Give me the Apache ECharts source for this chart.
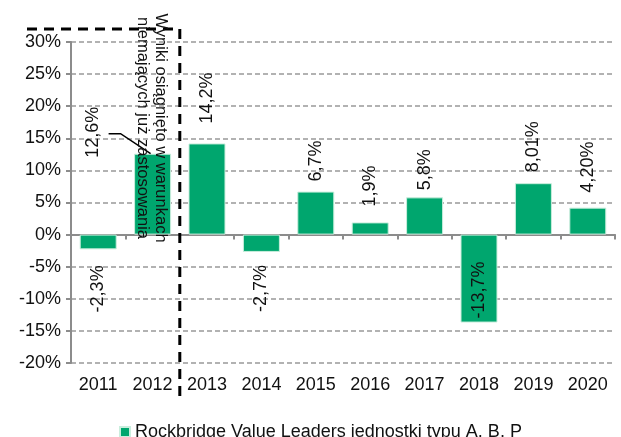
<!DOCTYPE html>
<html>
<head>
<meta charset="utf-8">
<script src="https://cdn.jsdelivr.net/npm/echarts@6/dist/echarts.min.js"></script>
<style>
  html, body { margin: 0; padding: 0; background: #fff; }
  #chart { width: 621px; height: 437px; }
</style>
</head>
<body>
<div id="chart"></div>
<script>
const years = ["2011", "2012", "2013", "2014", "2015", "2016", "2017", "2018", "2019", "2020"];
const returns = [-2.3, 12.6, 14.2, -2.7, 6.7, 1.9, 5.8, -13.7, 8.01, 4.2];
const returnLabels = ["-2,3%", "12,6%", "14,2%", "-2,7%", "6,7%", "1,9%", "5,8%", "-13,7%", "8,01%", "4,20%"];
const seriesName = "Rockbridge Value Leaders jednostki typu A, B, P";
const noteLines = ["Wyniki osiągnięto w warunkach", "niemających już zastosowania"];

// gap between bar end and its label, px (as placed in the original)
const labelGap = [16, 0, 20, 13, 10, 16, 7, 4, 11, 15];

const green = "#00a66e";
const font = "Liberation Sans, Arial, sans-serif";

const barData = returns.map((v, i) => {
  let label;
  if (i === 1) {
    // 2012 label sits off to the left, joined by a leader line
    label = { position: [-41, 4], align: "left", distance: 0 };
  } else if (v < -10) {
    label = { position: "insideBottom", align: "left", distance: labelGap[i] };
  } else if (v < 0) {
    label = { position: "bottom", align: "right", distance: labelGap[i] };
  } else {
    label = { position: "top", align: "left", distance: labelGap[i] };
  }
  return { value: v, label: label };
});

const option = {
  animation: false,
  grid: { left: 71, right: 6, top: 42, bottom: 74 },
  legend: {
    top: 418,
    left: 114,
    itemWidth: 10,
    itemHeight: 10,
    icon: "rect",
    itemGap: 4,
    textStyle: { fontFamily: font, fontSize: 18, color: "#111" },
    data: [seriesName],
  },
  xAxis: [
    {
      type: "category",
      data: years,
      axisLine: { onZero: true, lineStyle: { color: "#8c8c8c", width: 2 } },
      axisTick: { show: true, length: 5, lineStyle: { color: "#8c8c8c", width: 2 } },
      axisLabel: { show: false },
    },
    {
      type: "category",
      data: years,
      position: "bottom",
      axisLine: { show: false, onZero: false },
      axisTick: { show: false },
      axisLabel: { margin: 13, fontFamily: font, fontSize: 18, color: "#111" },
    },
  ],
  yAxis: {
    type: "value",
    min: -20,
    max: 30,
    interval: 5,
    axisLine: { show: true, lineStyle: { color: "#8c8c8c", width: 2 } },
    axisTick: { show: true, length: 5, lineStyle: { color: "#8c8c8c", width: 2 } },
    axisLabel: { formatter: "{value}%", margin: 10, fontFamily: font, fontSize: 18, color: "#111" },
    splitLine: { lineStyle: { color: "#999", width: 1.5, type: [5, 3] } },
  },
  series: [
    {
      name: seriesName,
      type: "bar",
      xAxisIndex: 0,
      barWidth: "68%",
      data: barData,
      itemStyle: { color: green, borderColor: "#c9eedd", borderWidth: 1 },
      label: {
        show: true,
        rotate: 90,
        verticalAlign: "middle",
        fontFamily: font,
        fontSize: 18,
        color: "#111",
        formatter: (p) => returnLabels[p.dataIndex],
      },
    },
  ],
};

const chart = echarts.init(document.getElementById("chart"));
chart.setOption(option);

// dashed divider between 2012 and 2013, the rotated note and the 2012 leader line
const x12 = chart.convertToPixel({ xAxisIndex: 0 }, "2012");
const x13 = chart.convertToPixel({ xAxisIndex: 0 }, "2013");
const top12 = chart.convertToPixel({ yAxisIndex: 0 }, returns[1]);
const divX = (x12 + x13) / 2;
const yTop = chart.convertToPixel({ yAxisIndex: 0 }, 30) - 13;
const yBottom = chart.convertToPixel({ yAxisIndex: 0 }, -20) + 35;
const dash = { stroke: "#000", lineWidth: 3, lineDash: [10, 7] };

chart.setOption({
  graphic: [
    { type: "line", shape: { x1: 27, y1: yTop, x2: divX, y2: yTop }, style: dash, z: 10 },
    { type: "line", shape: { x1: divX, y1: yTop, x2: divX, y2: yBottom }, style: dash, z: 10 },
    {
      type: "polyline",
      shape: { points: [[x12 - 44, top12 - 20], [x12 - 32, top12 - 20], [x12 - 2, top12]] },
      style: { stroke: "#000", lineWidth: 1.5, fill: null },
      z: 10,
    },
    {
      type: "text",
      x: x12 - 1,
      y: yTop + 99,
      rotation: -Math.PI / 2,
      z: 11,
      style: {
        text: noteLines.join("\n"),
        fontFamily: font,
        fontSize: 16.5,
        lineHeight: 18,
        fill: "#111",
        align: "center",
        verticalAlign: "middle",
      },
    },
  ],
});
</script>
</body>
</html>
